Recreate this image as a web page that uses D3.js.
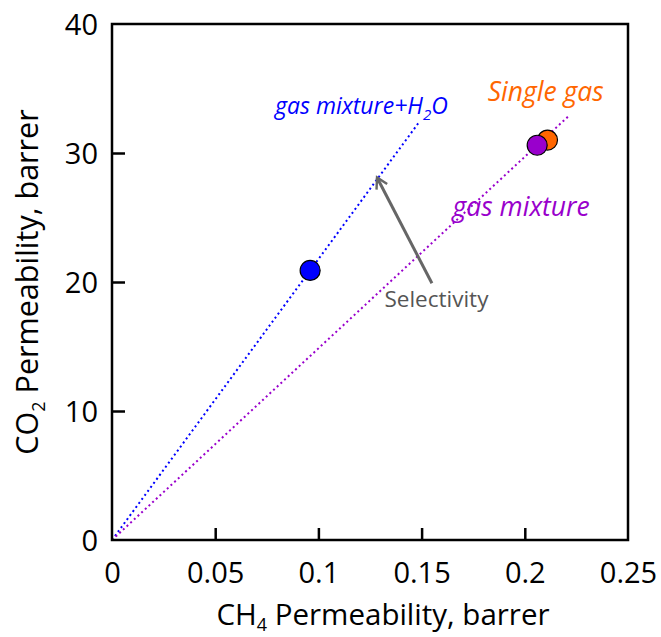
<!DOCTYPE html>
<html>
<head>
<meta charset="utf-8">
<script src="https://cdn.jsdelivr.net/npm/d3@7"></script>
<style>
  body { margin: 0; background: #fff; }
  svg { display: block; font-family: "Open Sans", sans-serif; }
</style>
</head>
<body>
<svg id="chart" width="661" height="637"></svg>
<script>
// data
const series = ['gas mixture+H2O', 'gas mixture', 'Single gas'];
const ch4Perm = [0.096, 0.206, 0.211];
const co2Perm = [20.9, 30.6, 31.0];
const colors = ['#0000ff', '#9900cc', '#ff6600'];
// selectivity lines from the origin out to these ends
const lineEndX = [0.1487, 0.2219];
const xTicks = [0, 0.05, 0.1, 0.15, 0.2, 0.25];
const yTicks = [0, 10, 20, 30, 40];
// arrow (tail -> head), in data units
const arrowFrom = [0.155, 19.9];
const arrowTo = [0.1284, 28.1];

const svg = d3.select('#chart');
const x = d3.scaleLinear().domain([0, 0.25]).range([112, 628]);
const y = d3.scaleLinear().domain([0, 40]).range([540, 24]);

svg.append('defs').append('marker')
    .attr('id', 'arrowhead')
    .attr('viewBox', '0 0 10 10')
    .attr('refX', 8).attr('refY', 5)
    .attr('markerWidth', 5).attr('markerHeight', 5)
    .attr('orient', 'auto')
    .append('path')
    .attr('d', 'M1,1 L8,5 L1,9')
    .attr('fill', 'none')
    .attr('stroke', '#666')
    .attr('stroke-width', 1.6);

// dotted selectivity lines
lineEndX.forEach((xe, i) => {
    const slope = co2Perm[i] / ch4Perm[i];
    svg.append('line')
        .attr('x1', x(0)).attr('y1', y(0))
        .attr('x2', x(xe)).attr('y2', y(xe * slope))
        .attr('stroke', colors[i])
        .attr('stroke-width', 2)
        .attr('stroke-dasharray', '2,3');
});

// axes: inward ticks, box frame
const xAxis = svg.append('g').attr('transform', `translate(0,${y(0)})`)
    .call(d3.axisBottom(x).tickValues(xTicks).tickSizeInner(-12).tickSizeOuter(0)
        .tickPadding(22).tickFormat(d => d === 0 ? '0' : String(+d.toFixed(2))));
const yAxis = svg.append('g').attr('transform', `translate(${x(0)},0)`)
    .call(d3.axisLeft(y).tickValues(yTicks).tickSizeInner(-13).tickSizeOuter(0)
        .tickPadding(14));
[xAxis, yAxis].forEach(a => {
    a.select('.domain').remove();
    a.selectAll('.tick line').attr('stroke', '#000').attr('stroke-width', 2.5);
    a.selectAll('.tick text').attr('fill', '#000').style('font-size', '29px')
        .style('font-family', '"Open Sans", sans-serif');
});
xAxis.selectAll('.tick text').attr('dy', '0.71em');
yAxis.selectAll('.tick text').attr('dy', '0.36em');
// hide ticks lying on the frame
xAxis.selectAll('.tick line').filter(d => d === 0 || d === 0.25).remove();
yAxis.selectAll('.tick line').filter(d => d === 0 || d === 40).remove();

svg.append('rect')
    .attr('x', x(0)).attr('y', y(40))
    .attr('width', x(0.25) - x(0)).attr('height', y(0) - y(40))
    .attr('fill', 'none').attr('stroke', '#000').attr('stroke-width', 2.5);

// arrow
svg.append('line')
    .attr('x1', x(arrowFrom[0])).attr('y1', y(arrowFrom[1]))
    .attr('x2', x(arrowTo[0])).attr('y2', y(arrowTo[1]))
    .attr('stroke', '#666').attr('stroke-width', 3)
    .attr('marker-end', 'url(#arrowhead)');

// points: orange behind purple
const order = [2, 0, 1];
svg.selectAll('circle.pt')
    .data(order)
    .join('circle')
    .attr('class', 'pt')
    .attr('cx', i => x(ch4Perm[i]))
    .attr('cy', i => y(co2Perm[i]))
    .attr('r', 10)
    .attr('fill', i => colors[i])
    .attr('stroke', '#000')
    .attr('stroke-width', 1.2);

// labels
function label(px, py, color, size, italic) {
    return svg.append('text')
        .attr('x', x(px)).attr('y', y(py))
        .attr('fill', color)
        .style('font-size', size + 'px')
        .style('font-style', italic ? 'italic' : 'normal');
}
const h2o = label(0.079, 33.0, colors[0], 23, true);
h2o.append('tspan').text('gas mixture+H');
h2o.append('tspan').text('2').attr('dy', 6).style('font-size', '15px');
h2o.append('tspan').text('O').attr('dy', -6);
label(0.182, 34.0, colors[2], 26.5, true).text('Single gas');
label(0.165, 25.1, colors[1], 26.5, true).text('gas mixture');
label(0.132, 18.1, '#555', 22.5, false).text('Selectivity');

// axis titles
const xt = svg.append('text')
    .attr('x', 383).attr('y', 625)
    .attr('text-anchor', 'middle')
    .style('font-size', '29.5px');
xt.append('tspan').text('CH');
xt.append('tspan').text('4').attr('dy', 6).style('font-size', '18px');
xt.append('tspan').text(' Permeability, barrer').attr('dy', -6);

const yt = svg.append('text')
    .attr('transform', 'translate(38,282) rotate(-90)')
    .attr('text-anchor', 'middle')
    .style('font-size', '30.5px');
yt.append('tspan').text('CO');
yt.append('tspan').text('2').attr('dy', 7).style('font-size', '18px');
yt.append('tspan').text(' Permeability, barrer').attr('dy', -7);
</script>
</body>
</html>
